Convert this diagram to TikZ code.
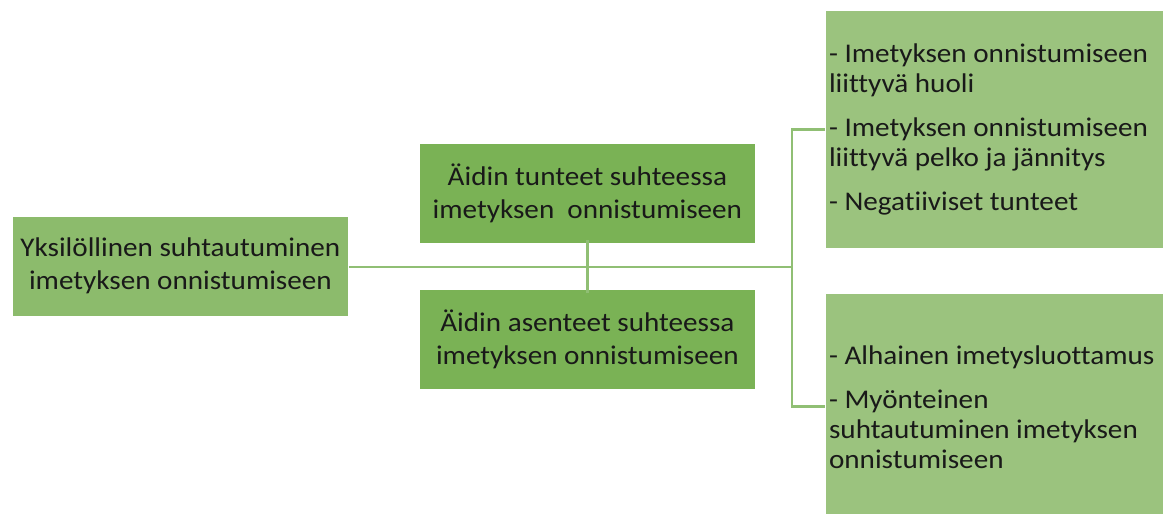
\documentclass[tikz,border=0pt]{standalone}
\usepackage{fontspec}
\setmainfont{Carlito}[Ligatures=NoCommon, FakeStretch=1.08]
\begin{document}
\begin{tikzpicture}[x=1pt,y=-1pt,
  box/.style={rectangle, draw=white, line width=0.8pt, inner sep=0pt, anchor=north west},
  lbl/.style={font=\fontsize{27}{33}\selectfont, text=black!90},
  lbr/.style={font=\fontsize{27}{30}\selectfont, text=black!90},
  link/.style={draw=linkgreen, line width=2.4pt}]
\definecolor{leftgreen}{HTML}{8CBB6C}
\definecolor{midgreen}{HTML}{7AB255}
\definecolor{rightgreen}{HTML}{9BC37E}
\definecolor{linkgreen}{HTML}{90BF74}
\clip (0,0) rectangle (1165,514);
\fill[white] (0,0) rectangle (1165,514);

% left box
\node[box, fill=leftgreen, minimum width=336pt, minimum height=100pt] (indiv) at (12,216) {};
\node[lbl, align=center] (indivtxt) at ([yshift=1pt]indiv.center) {Yksilöllinen suhtautuminen\\imetyksen onnistumiseen};

% middle boxes
\node[box, fill=midgreen, minimum width=336pt, minimum height=100pt] (feel) at (419,143) {};
\node[lbl, align=center] (feeltxt) at (feel.center) {Äidin tunteet suhteessa\\imetyksen\ \ onnistumiseen};
\node[box, fill=midgreen, minimum width=336pt, minimum height=100pt] (attit) at (419,289) {};
\node[lbl, align=center] (attittxt) at (attit.center) {Äidin asenteet suhteessa\\imetyksen onnistumiseen};

% right boxes
\node[box, fill=rightgreen, minimum width=338pt, minimum height=238pt] (rtop) at (825,10) {};
\node[lbr, align=left, anchor=west] (rtoptxt) at ([xshift=0.5pt]rtop.west)
  {- Imetyksen onnistumiseen\\liittyvä huoli\\[14pt]- Imetyksen onnistumiseen\\liittyvä pelko ja jännitys\\[14pt]- Negatiiviset tunteet};
\node[box, fill=rightgreen, minimum width=338pt, minimum height=226pt] (rbot) at (825,293) {};
\node[lbr, align=left, anchor=west] (rbottxt) at ([xshift=0.5pt,yshift=-1pt]rbot.west)
  {- Alhainen imetysluottamus\\[14pt]- Myönteinen\\suhtautuminen imetyksen\\onnistumiseen};

% connectors
\coordinate (hub) at (792,267);
\draw[link] (indiv.east |- hub) -- (hub);
\draw[link] ([yshift=4pt]feel.south) -- ([yshift=-4pt]attit.north);
\draw[link, line join=miter] (rtop.west) -| (hub) |- (rbot.west);
\end{tikzpicture}
\end{document}
